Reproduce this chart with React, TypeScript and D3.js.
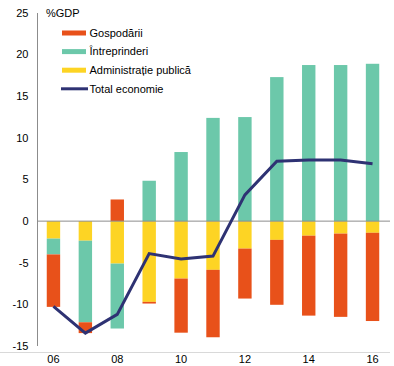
import React, { useRef, useEffect } from 'react';
import * as d3 from 'd3';

const years = [2006, 2007, 2008, 2009, 2010, 2011, 2012, 2013, 2014, 2015, 2016];
const gospodarii = [-6.3, -1.3, 2.6, -0.2, -6.5, -8.1, -6.0, -7.8, -9.6, -10.0, -10.6];
const intreprinderi = [-1.9, -9.8, -7.8, 4.85, 8.3, 12.4, 12.5, 17.3, 18.75, 18.75, 18.9];
const administratie = [-2.1, -2.35, -5.1, -9.7, -6.9, -5.85, -3.3, -2.25, -1.75, -1.5, -1.4];
const total = [-10.25, -13.45, -11.2, -3.9, -4.55, -4.2, 3.15, 7.2, 7.35, 7.35, 6.9];
const yTicks = [-15, -10, -5, 0, 5, 10, 15, 20, 25];
const xLabels = ['06', '08', '10', '12', '14', '16'];

const colors = { gosp: '#E8511A', intr: '#6CC8AA', admin: '#FDD424', total: '#2E3273' };

function App() {
  const svgRef = useRef(null);

  useEffect(() => {
    const width = 394;
    const height = 366;
    const svg = d3.select(svgRef.current);
    svg.selectAll('*').remove();

    const x = d3.scaleBand<number>()
      .domain(years)
      .range([37.5, 388.5])
      .paddingInner(0.58)
      .paddingOuter(0.29);

    const y = d3.scaleLinear().domain([-15, 25]).range([346, 13]);

    const rows = years.map((yr, i) => ({
      year: yr,
      admin: administratie[i],
      intr: intreprinderi[i],
      gosp: gospodarii[i]
    }));

    const stack = d3.stack<any>()
      .keys(['admin', 'intr', 'gosp'])
      .offset(d3.stackOffsetDiverging);
    const series = stack(rows);

    // bottom axis line
    svg.append('line')
      .attr('x1', 0).attr('x2', 390)
      .attr('y1', 352.5).attr('y2', 352.5)
      .attr('stroke', '#d9d9d9').attr('stroke-width', 1);

    // bars
    series.forEach(s => {
      svg.append('g')
        .attr('fill', colors[s.key])
        .selectAll('rect')
        .data(s)
        .enter()
        .append('rect')
        .attr('x', d => x(d.data.year))
        .attr('width', x.bandwidth())
        .attr('y', d => y(Math.max(d[0], d[1])))
        .attr('height', d => Math.abs(y(d[0]) - y(d[1])));
    });

    // zero line
    svg.append('line')
      .attr('x1', 37.5).attr('x2', 390)
      .attr('y1', y(0)).attr('y2', y(0))
      .attr('stroke', '#8c8c8c').attr('stroke-width', 1);

    // y axis
    svg.append('line')
      .attr('x1', 37.5).attr('x2', 37.5)
      .attr('y1', y(25)).attr('y2', y(-15))
      .attr('stroke', '#8c8c8c').attr('stroke-width', 1);

    svg.append('g')
      .selectAll('text')
      .data(yTicks)
      .enter()
      .append('text')
      .attr('x', 28.5)
      .attr('y', d => y(d))
      .attr('dy', '0.35em')
      .attr('text-anchor', 'end')
      .text(d => d);

    // x labels
    svg.append('g')
      .selectAll('text')
      .data(xLabels)
      .enter()
      .append('text')
      .attr('x', d => x(2000 + +d) + x.bandwidth() / 2)
      .attr('y', 359)
      .attr('dy', '0.35em')
      .attr('text-anchor', 'middle')
      .text(d => d);

    // total line
    const line = d3.line<number>()
      .x((d, i) => x(years[i]) + x.bandwidth() / 2)
      .y(d => y(d));
    svg.append('path')
      .datum(total)
      .attr('fill', 'none')
      .attr('stroke', colors.total)
      .attr('stroke-width', 3)
      .attr('d', line);

    svg.append('text')
      .attr('x', 46).attr('y', 13)
      .attr('dy', '0.35em')
      .text('%GDP');

    // legend
    const legend = [
      { name: 'Gospodării', color: colors.gosp, line: false },
      { name: 'Întreprinderi', color: colors.intr, line: false },
      { name: 'Administrație publică', color: colors.admin, line: false },
      { name: 'Total economie', color: colors.total, line: true }
    ];
    const lg = svg.append('g');
    legend.forEach((l, i) => {
      const cy = 33 + i * 18.6;
      if (l.line) {
        lg.append('line')
          .attr('x1', 61).attr('x2', 88)
          .attr('y1', cy).attr('y2', cy)
          .attr('stroke', l.color).attr('stroke-width', 3);
      } else {
        lg.append('rect')
          .attr('x', 62).attr('y', cy - 2.5)
          .attr('width', 24).attr('height', 5)
          .attr('fill', l.color);
      }
      lg.append('text')
        .attr('x', 89.5).attr('y', cy)
        .attr('dy', '0.35em')
        .text(l.name);
    });

    svg.attr('width', width).attr('height', height);
  }, []);

  return (
    <svg
      ref={svgRef}
      width={394}
      height={366}
      style={{ position: 'absolute', left: 0, top: 0, fontFamily: 'Liberation Sans, Arial, sans-serif', fontSize: 11, fill: '#000' }}
    ></svg>
  );
}

export default App;
